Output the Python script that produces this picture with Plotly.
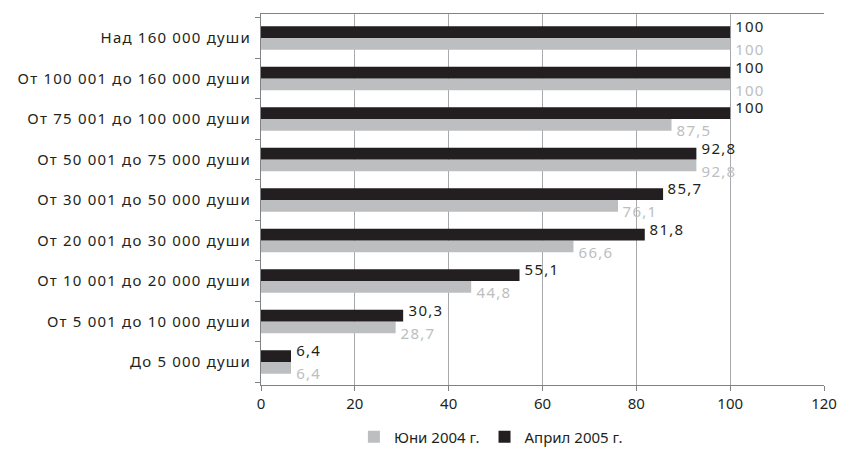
import plotly.graph_objects as go

# Categories listed bottom-to-top (Plotly draws the first category at the bottom)
categories = [
    "До 5 000 души",
    "От 5 001 до 10 000 души",
    "От 10 001 до 20 000 души",
    "От 20 001 до 30 000 души",
    "От 30 001 до 50 000 души",
    "От 50 001 до 75 000 души",
    "От 75 001 до 100 000 души",
    "От 100 001 до 160 000 души",
    "Над 160 000 души",
]
june_2004 = [6.4, 28.7, 44.8, 66.6, 76.1, 92.8, 87.5, 100, 100]
april_2005 = [6.4, 30.3, 55.1, 81.8, 85.7, 92.8, 100, 100, 100]
series_names = ["Юни 2004 г.", "Април 2005 г."]
x_ticks = [0, 20, 40, 60, 80, 100, 120]

GRAY = "#bcbec0"
BLACK = "#231f20"
FONT = "Noto Sans, Open Sans, sans-serif"
TRACKING = 1.2  # px of letter-spacing on category and value labels


def fmt(v):
    return f"{v:g}".replace(".", ",")


fig = go.Figure()
fig.add_trace(go.Bar(y=categories, x=june_2004, orientation="h",
                     name=series_names[0], marker=dict(color=GRAY, line_width=0)))
fig.add_trace(go.Bar(y=categories, x=april_2005, orientation="h",
                     name=series_names[1], marker=dict(color=BLACK, line_width=0)))

# Value labels: dark above-right of the dark bars, gray below-right of the gray bars.
# Labels are centre-anchored, so tracking widens them both ways; nudge right by half.
for cat, v in zip(categories, april_2005):
    t = fmt(v)
    fig.add_annotation(x=v, y=cat, text=t, showarrow=False, xanchor="left",
                       xshift=3 + TRACKING * len(t) / 2, yshift=12,
                       font=dict(color=BLACK, size=15, family=FONT))
for cat, v in zip(categories, june_2004):
    t = fmt(v)
    fig.add_annotation(x=v, y=cat, text=t, showarrow=False, xanchor="left",
                       xshift=3 + TRACKING * len(t) / 2, yshift=-11,
                       font=dict(color=GRAY, size=15, family=FONT))

fig.update_layout(
    width=841, height=449,
    margin=dict(l=261, r=17, t=14, b=64, autoexpand=False),
    barmode="group", bargap=0.42, bargroupgap=0,
    plot_bgcolor="white", paper_bgcolor="white",
    font=dict(family=FONT, size=15, color=BLACK),
    showlegend=True,
    legend=dict(orientation="h", x=0.165, xanchor="left", y=-0.14, yanchor="middle",
                font=dict(size=15, color=BLACK), itemwidth=30,
                traceorder="normal", tracegroupgap=0),
    xaxis=dict(range=[0, 120], tickvals=x_ticks, ticktext=[str(t) for t in x_ticks],
               showgrid=True, gridcolor="#a7a9ac", gridwidth=1, automargin=False,
               showline=True, linecolor="#808285", linewidth=1, mirror=True,
               ticks="outside", ticklen=5, tickcolor="#808285", zeroline=False,
               tickfont=dict(size=15, color=BLACK)),
    yaxis=dict(type="category", showgrid=False, showline=True, linecolor="#808285",
               linewidth=1, ticks="outside", ticklen=5, tickcolor="#808285",
               tickson="boundaries", ticklabelstandoff=6, automargin=False,
               tickfont=dict(size=15, color=BLACK)),
)

# Slightly tracked-out lettering for the category names and value labels
post = """
var st = document.createElement('style');
st.textContent = '.js-plotly-plot .ytick text, .js-plotly-plot .annotation-text '
  + '{ letter-spacing: %gpx; }';
document.head.appendChild(st);
document.documentElement.lang = 'bg';
""" % TRACKING

fig.write_html("out.html", post_script=post)
